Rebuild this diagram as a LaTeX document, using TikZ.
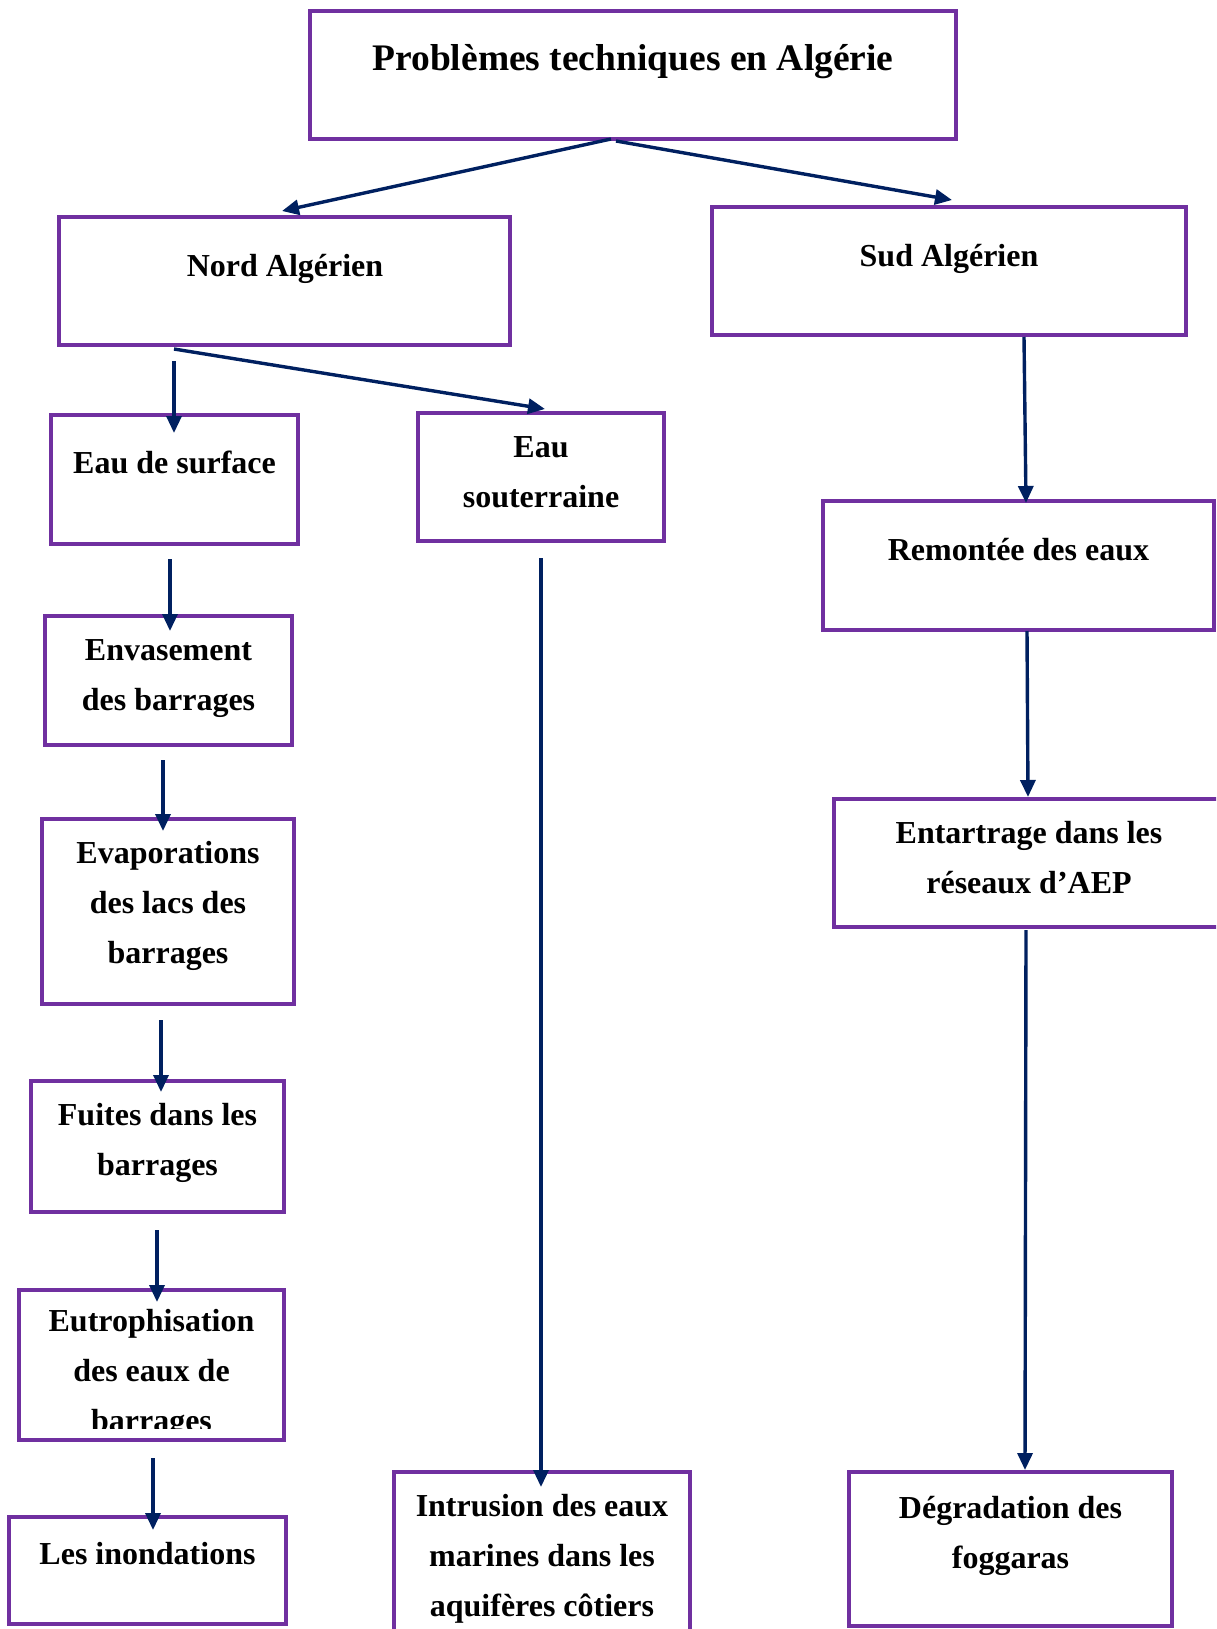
\documentclass[tikz,border=0pt]{standalone}
\usepackage{fontspec}
\setmainfont{Liberation Serif}
\usetikzlibrary{arrows.meta}
\definecolor{boxpurple}{RGB}{112,48,160}
\definecolor{arrownavy}{RGB}{0,32,96}
\tikzset{
  box/.style={draw=boxpurple, line width=3.8pt, inner sep=0pt, outer sep=0pt, anchor=north west},
  lbl/.style={anchor=north, inner sep=0pt, align=center,
              font=\bfseries\fontsize{32}{50}\selectfont},
  titlelbl/.style={lbl, font=\bfseries\fontsize{37.5}{50}\selectfont},
  link/.style={draw=arrownavy, line width=3.4pt, -{Triangle[length=17pt,width=15pt]}},
}
% fixed height for the first line, so every label starts 30pt above its baseline
\newcommand{\firstline}{\rule{0pt}{30pt}}
\begin{document}
\begin{tikzpicture}[x=1pt, y=-1pt]
\useasboundingbox (0,0) rectangle (1216,1629);
\clip (0,0) rectangle (1216,1629);

% boxes
\node[box, minimum width=646, minimum height=128] (top)   at (310,11)   {};
\node[box, minimum width=451, minimum height=128] (nord)  at (59,217)   {};
\node[box, minimum width=474, minimum height=128] (sud)   at (712,207)  {};
\node[box, minimum width=247, minimum height=129] (surf)  at (51,415)   {};
\node[box, minimum width=246, minimum height=128] (sout)  at (418,413)  {};
\node[box, minimum width=391, minimum height=129] (remo)  at (823,501)  {};
\node[box, minimum width=247, minimum height=129] (env)   at (45,616)   {};
\node[box, minimum width=390, minimum height=128] (entar) at (834,799)  {};
\node[box, minimum width=252, minimum height=185] (evap)  at (42,819)   {};
\node[box, minimum width=253, minimum height=131] (fuit)  at (31,1081)  {};
\node[box, minimum width=265, minimum height=150] (eutro) at (19,1290)  {};
\node[box, minimum width=277, minimum height=107] (inond) at (9,1517)   {};
\node[box, minimum width=296, minimum height=188] (intru) at (394,1472) {};
\node[box, minimum width=323, minimum height=154] (degr)  at (849,1472) {};

% labels (y = first baseline - 30)
\node[titlelbl] (ttop)   at (633,40)    {\firstline Problèmes techniques en Algérie};
\node[lbl]      (tnord)  at (285,246)   {\firstline Nord Algérien};
\node[lbl]      (tsud)   at (949,236)   {\firstline Sud Algérien};
\node[lbl]      (tsurf)  at (174.5,443) {\firstline Eau de surface};
\node[lbl]      (tsout)  at (541,427)   {\firstline Eau\\souterraine};
\node[lbl]      (tremo)  at (1018.5,530){\firstline Remontée des eaux};
\node[lbl]      (tenv)   at (168.5,630) {\firstline Envasement\\des barrages};
\node[lbl]      (tentar) at (1029,813)  {\firstline Entartrage dans les\\réseaux d’AEP};
\node[lbl]      (tevap)  at (168,833)   {\firstline Evaporations\\des lacs des\\barrages};
\node[lbl]      (tfuit)  at (157.5,1095){\firstline Fuites dans les\\barrages};
\begin{scope}
  \clip (19,1290) rectangle (284,1428);
  \node[lbl]    (teutro) at (151.5,1301){\firstline Eutrophisation\\des eaux de\\barrages};
\end{scope}
\node[lbl]      (tinond) at (147.5,1534){\firstline Les inondations};
\node[lbl]      (tintru) at (542,1486)  {\firstline Intrusion des eaux\\marines dans les\\aquifères côtiers};
\node[lbl]      (tdegr)  at (1010.5,1488){\firstline Dégradation des\\foggaras};

% connector end points
\coordinate (a1s) at (611,139);   \coordinate (a1e) at (282,211);
\coordinate (a2s) at (616,141);   \coordinate (a2e) at (952,200);
\coordinate (a3s) at (174,361);   \coordinate (a3e) at (174,433);
\coordinate (a4s) at (174,349);   \coordinate (a4e) at (545,409);
\coordinate (a5s) at (1024,337);  \coordinate (a5e) at (1026,503);
\coordinate (a6s) at (170,559);   \coordinate (a6e) at (170,631);
\coordinate (a7s) at (163,760);   \coordinate (a7e) at (163,831);
\coordinate (a8s) at (161,1020);  \coordinate (a8e) at (161,1092);
\coordinate (a9s) at (157,1230);  \coordinate (a9e) at (157,1302);
\coordinate (a10s) at (153,1458); \coordinate (a10e) at (153,1530);
\coordinate (a11s) at (541,558);  \coordinate (a11e) at (541,1487);
\coordinate (a12s) at (1027,631); \coordinate (a12e) at (1028,797);
\coordinate (a13s) at (1026,930); \coordinate (a13e) at (1025,1470);

% connectors
\draw[link] (a1s) -- (a1e);
\draw[link] (a2s) -- (a2e);
\draw[link] (a3s) -- (a3e);
\draw[link] (a4s) -- (a4e);
\draw[link] (a5s) -- (a5e);
\draw[link] (a6s) -- (a6e);
\draw[link] (a7s) -- (a7e);
\draw[link] (a8s) -- (a8e);
\draw[link] (a9s) -- (a9e);
\draw[link] (a10s) -- (a10e);
\draw[link] (a11s) -- (a11e);
\draw[link] (a12s) -- (a12e);
\draw[link] (a13s) -- (a13e);
\end{tikzpicture}
\end{document}
